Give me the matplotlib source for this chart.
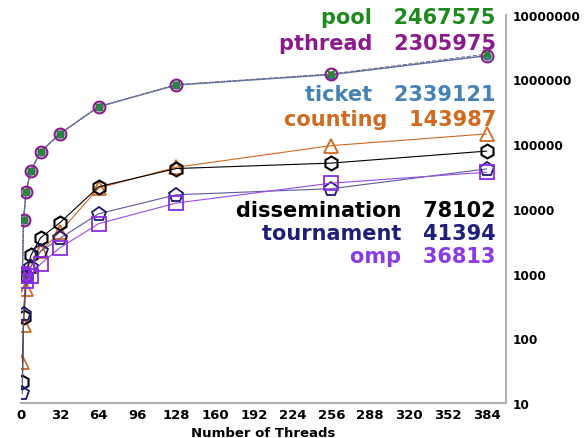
import matplotlib
matplotlib.use("Agg")
import matplotlib.pyplot as plt
from matplotlib.ticker import NullLocator

# datos
threads = [1, 2, 4, 8, 16, 32, 64, 128, 256, 384]

pool = [1000, 6800, 18000, 39000, 76000, 145000, 380000, 830000, 1220000, 2467575]
pthread = [1000, 6800, 18000, 39000, 76000, 145000, 380000, 830000, 1200000, 2305975]
ticket = [1000, 6700, 18000, 39000, 76000, 145000, 380000, 820000, 1190000, 2339121]
counting = [43, 160, 580, 1300, 2200, 4400, 21000, 44000, 95000, 143987]
dissemination = [21, 215, 930, 1900, 3560, 6100, 22000, 42000, 51000, 78102]
tournament = [14, 240, 900, 1260, 2200, 3500, 8400, 16500, 20500, 41394]
omp = [1000, 900, 760, 930, 1400, 2500, 5900, 12300, 25000, 36813]

x_ticks = [0, 32, 64, 96, 128, 160, 192, 224, 256, 288, 320, 352, 384]
y_ticks = [10, 100, 1000, 10000, 100000, 1000000, 10000000]

fig = plt.figure(figsize=(5.87, 4.39), dpi=100)
ax = fig.add_axes([0.036, 0.080, 0.826, 0.884])

ax.plot(threads, ticket, '-', color='#4682b4', lw=1, marker='o', ms=5,
        markerfacecolor='#2e8b8b', markeredgecolor='#2e6b6b')
ax.plot(threads, pool, '--', color='#777777', lw=0.8, marker='x', ms=6,
        markeredgecolor='#228b22', markeredgewidth=1.5)
ax.plot(threads, pthread, ':', color='#8b4a9b', lw=0.8, marker='o', ms=8.5,
        markerfacecolor='none', markeredgecolor='#8b1a8b', markeredgewidth=1.5)

ax.plot(threads, counting, '-', color='#d2691e', lw=0.8, marker='^', ms=10,
        markerfacecolor='none', markeredgewidth=1.3)
ax.plot(threads, dissemination, '-', color='black', lw=0.8, marker='h', ms=10,
        markerfacecolor='none', markeredgewidth=1.5)
ax.plot(threads, tournament, '-', color='#5a5a9a', lw=0.8, marker='p', ms=10,
        markerfacecolor='none', markeredgecolor='#191970', markeredgewidth=1.3)
ax.plot(threads, omp, '-', color='#9a4ae6', lw=0.8, marker='s', ms=9.5,
        markerfacecolor='none', markeredgecolor='#8a2be2', markeredgewidth=1.3)

ax.set_yscale('log')
ax.set_xlim(0, 400)
ax.set_ylim(10, 1e7)

ax.set_xticks(x_ticks)
ax.set_xticklabels([str(t) for t in x_ticks], fontsize=9.5, fontweight='bold')
ax.set_yticks(y_ticks)
ax.set_yticklabels([str(t) for t in y_ticks], fontsize=8.7, fontweight='bold')
ax.yaxis.set_minor_locator(NullLocator())
ax.yaxis.tick_right()
ax.tick_params(axis='y', length=0, pad=5)
ax.tick_params(axis='x', length=0, pad=4)
ax.set_xlabel('Number of Threads', fontsize=9.5, fontweight='bold', labelpad=3)

ax.spines['left'].set_visible(False)
ax.spines['top'].set_visible(False)
for s in ['right', 'bottom']:
    ax.spines[s].set_color('#b0b0b0')
    ax.spines[s].set_linewidth(1.5)

# etiquetas con el valor final
labels = [
    ('pool', 2467575, '#1f8a1f', 0.995),
    ('pthread', 2305975, '#8b1a8b', 0.928),
    ('ticket', 2339121, '#4682b4', 0.796),
    ('counting', 143987, '#d2691e', 0.732),
    ('dissemination', 78102, 'black', 0.497),
    ('tournament', 41394, '#1f1f7a', 0.438),
    ('omp', 36813, '#8a3be2', 0.379),
]
for name, val, col, ypos in labels:
    ax.text(0.979, ypos, f'{name}   {val}', transform=ax.transAxes, ha='right',
            va='center', fontsize=15, fontweight='bold', color=col, clip_on=False)

fig.savefig('out.png', dpi=100)
